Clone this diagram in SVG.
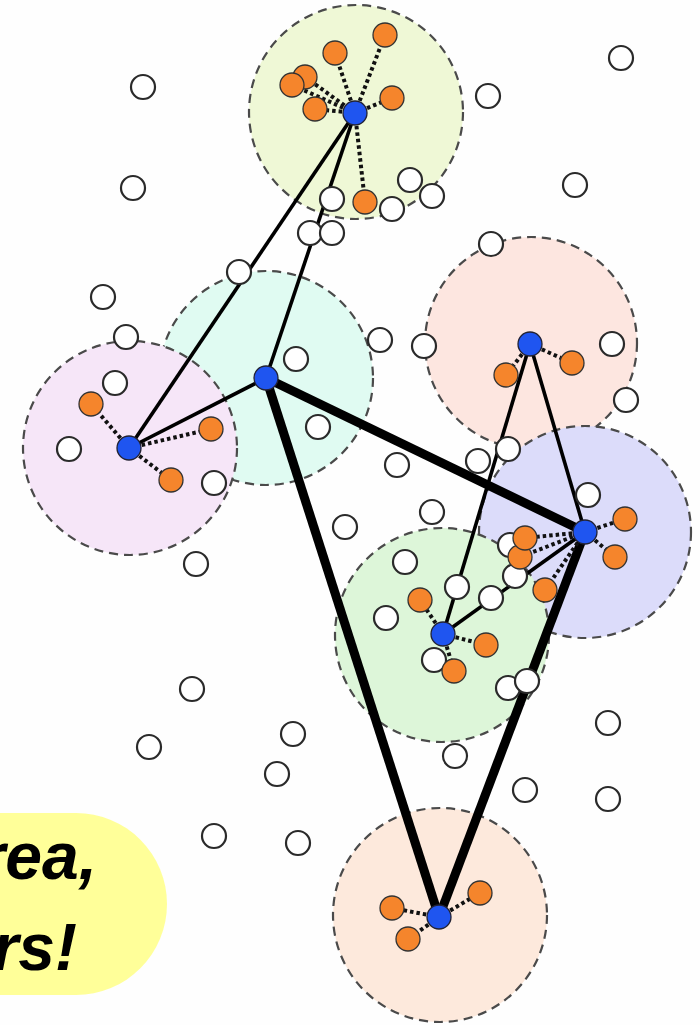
<svg xmlns="http://www.w3.org/2000/svg" width="700" height="1025" viewBox="0 0 700 1025">
<style>
.rng{stroke:#4a4a4a;stroke-width:2.2;stroke-dasharray:9 6}
.w{fill:#fff;stroke:#2a2a2a;stroke-width:2.2}
.o{fill:#f5852c;stroke:#333;stroke-width:1.3}
.b{fill:#1f55f0;stroke:#223;stroke-width:1.3}
.thin{stroke:#000;stroke-width:3.6;fill:none}
.thick{stroke:#000;stroke-width:9;fill:none}
.dot{stroke:#111;stroke-width:4;stroke-dasharray:3.5 3;fill:none}
.lbl{font-family:"Liberation Sans",Arial,sans-serif;font-weight:bold;font-style:italic;font-size:66px;fill:#000}
</style>
<rect width="700" height="1025" fill="#fefefe"/>
<g id="ranges">
<circle class="rng" cx="356" cy="112" r="107" fill="#eff8d6"/>
<circle class="rng" cx="531" cy="343" r="106" fill="#fde6e0"/>
<circle class="rng" cx="585" cy="532" r="106" fill="#dcdcfa"/>
<circle class="rng" cx="442" cy="635" r="107" fill="#ddf6d9"/>
<circle class="rng" cx="266" cy="378" r="107" fill="#e0fbf2"/>
<circle class="rng" cx="130" cy="448" r="107" fill="#f6e6f8"/>
<circle class="rng" cx="440" cy="915" r="107" fill="#fde9dc"/>
</g>
<g id="label">
<rect x="-120" y="813" width="287" height="182" rx="91" fill="#ffff99"/>
<text class="lbl" x="97" y="879" text-anchor="end">rea,</text>
<text class="lbl" x="77" y="970" text-anchor="end">rs!</text>
</g>
<g id="connectors">
<line class="thin" x1="355" y1="113" x2="129" y2="448"/>
<line class="thin" x1="355" y1="113" x2="266" y2="378"/>
<line class="thin" x1="266" y1="378" x2="129" y2="448"/>
<line class="thin" x1="530" y1="344" x2="443" y2="634"/>
<line class="thin" x1="530" y1="344" x2="585" y2="532"/>
<line class="thin" x1="443" y1="634" x2="585" y2="532"/>
<line class="thick" x1="266" y1="378" x2="585" y2="532"/>
<line class="thick" x1="266" y1="378" x2="439" y2="917"/>
<line class="thick" x1="585" y1="532" x2="439" y2="917"/>
<path class="dot" d="M355 113L385 35M355 113L335 53M355 113L305 77M355 113L292 85M355 113L315 109M355 113L392 98M355 113L365 202"/>
<path class="dot" d="M129 448L91 404M129 448L211 429M129 448L171 480"/>
<path class="dot" d="M530 344L572 363M530 344L506 375"/>
<path class="dot" d="M585 532L625 519M585 532L615 557M585 532L525 538M585 532L520 557M585 532L545 590"/>
<path class="dot" d="M443 634L420 600M443 634L454 671M443 634L486 645"/>
<path class="dot" d="M439 917L392 908M439 917L408 939M439 917L480 893"/>
</g>
<g id="free-nodes">
<circle class="w" cx="143" cy="87" r="12"/>
<circle class="w" cx="621" cy="58" r="12"/>
<circle class="w" cx="488" cy="96" r="12"/>
<circle class="w" cx="133" cy="188" r="12"/>
<circle class="w" cx="575" cy="185" r="12"/>
<circle class="w" cx="491" cy="244" r="12"/>
<circle class="w" cx="103" cy="297" r="12"/>
<circle class="w" cx="126" cy="337" r="12"/>
<circle class="w" cx="239" cy="272" r="12"/>
<circle class="w" cx="115" cy="383" r="12"/>
<circle class="w" cx="69" cy="449" r="12"/>
<circle class="w" cx="214" cy="483" r="12"/>
<circle class="w" cx="196" cy="564" r="12"/>
<circle class="w" cx="296" cy="359" r="12"/>
<circle class="w" cx="318" cy="427" r="12"/>
<circle class="w" cx="380" cy="340" r="12"/>
<circle class="w" cx="424" cy="346" r="12"/>
<circle class="w" cx="612" cy="344" r="12"/>
<circle class="w" cx="626" cy="400" r="12"/>
<circle class="w" cx="397" cy="465" r="12"/>
<circle class="w" cx="478" cy="461" r="12"/>
<circle class="w" cx="508" cy="449" r="12"/>
<circle class="w" cx="588" cy="495" r="12"/>
<circle class="w" cx="345" cy="527" r="12"/>
<circle class="w" cx="432" cy="512" r="12"/>
<circle class="w" cx="405" cy="562" r="12"/>
<circle class="w" cx="386" cy="618" r="12"/>
<circle class="w" cx="510" cy="545" r="12"/>
<circle class="w" cx="457" cy="587" r="12"/>
<circle class="w" cx="491" cy="598" r="12"/>
<circle class="w" cx="515" cy="576" r="12"/>
<circle class="w" cx="434" cy="660" r="12"/>
<circle class="w" cx="508" cy="688" r="12"/>
<circle class="w" cx="527" cy="681" r="12"/>
<circle class="w" cx="608" cy="723" r="12"/>
<circle class="w" cx="192" cy="689" r="12"/>
<circle class="w" cx="149" cy="747" r="12"/>
<circle class="w" cx="293" cy="734" r="12"/>
<circle class="w" cx="277" cy="774" r="12"/>
<circle class="w" cx="455" cy="756" r="12"/>
<circle class="w" cx="525" cy="790" r="12"/>
<circle class="w" cx="608" cy="799" r="12"/>
<circle class="w" cx="214" cy="836" r="12"/>
<circle class="w" cx="298" cy="843" r="12"/>
<circle class="w" cx="332" cy="199" r="12"/>
<circle class="w" cx="410" cy="180" r="12"/>
<circle class="w" cx="392" cy="209" r="12"/>
<circle class="w" cx="432" cy="196" r="12"/>
<circle class="w" cx="310" cy="233" r="12"/>
<circle class="w" cx="332" cy="233" r="12"/>
</g>
<g id="cluster-top">
<circle class="o" cx="385" cy="35" r="12"/>
<circle class="o" cx="335" cy="53" r="12"/>
<circle class="o" cx="305" cy="77" r="12"/>
<circle class="o" cx="292" cy="85" r="12"/>
<circle class="o" cx="315" cy="109" r="12"/>
<circle class="o" cx="392" cy="98" r="12"/>
<circle class="o" cx="365" cy="202" r="12"/>
<circle class="b" cx="355" cy="113" r="12"/>
</g>
<g id="cluster-purple">
<circle class="o" cx="91" cy="404" r="12"/>
<circle class="o" cx="211" cy="429" r="12"/>
<circle class="o" cx="171" cy="480" r="12"/>
<circle class="b" cx="129" cy="448" r="12"/>
</g>
<g id="cluster-teal">
<circle class="b" cx="266" cy="378" r="12"/>
</g>
<g id="cluster-pink">
<circle class="o" cx="572" cy="363" r="12"/>
<circle class="o" cx="506" cy="375" r="12"/>
<circle class="b" cx="530" cy="344" r="12"/>
</g>
<g id="cluster-lavender">
<circle class="o" cx="625" cy="519" r="12"/>
<circle class="o" cx="615" cy="557" r="12"/>
<circle class="o" cx="520" cy="557" r="12"/>
<circle class="o" cx="525" cy="538" r="12"/>
<circle class="o" cx="545" cy="590" r="12"/>
<circle class="b" cx="585" cy="532" r="12"/>
</g>
<g id="cluster-green">
<circle class="o" cx="420" cy="600" r="12"/>
<circle class="o" cx="454" cy="671" r="12"/>
<circle class="o" cx="486" cy="645" r="12"/>
<circle class="b" cx="443" cy="634" r="12"/>
</g>
<g id="cluster-peach">
<circle class="o" cx="392" cy="908" r="12"/>
<circle class="o" cx="408" cy="939" r="12"/>
<circle class="o" cx="480" cy="893" r="12"/>
<circle class="b" cx="439" cy="917" r="12"/>
</g>
</svg>
